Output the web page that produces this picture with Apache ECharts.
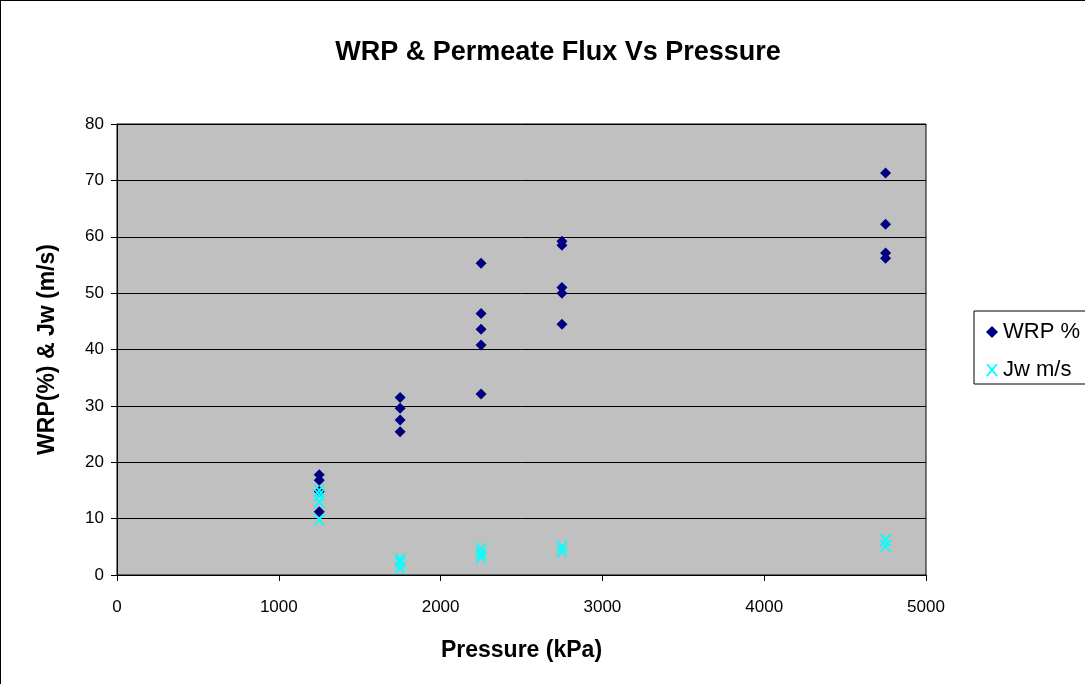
<!DOCTYPE html>
<html>
<head>
<meta charset="utf-8">
<script src="https://cdn.jsdelivr.net/npm/echarts@6/dist/echarts.min.js"></script>
<style>
  html, body { margin: 0; padding: 0; background: #fff; }
  #chart { width: 1085px; height: 684px; box-sizing: border-box; border-left: 1px solid #000; border-top: 1px solid #000; }
</style>
</head>
<body>
<div id="chart"></div>
<script>
// Pressure settings (kPa)
const pressures = [1250, 1750, 2250, 2750, 4750];

// WRP (%) readings at each pressure
const wrp1250 = [17.8, 16.8, 14.8, 11.2];
const wrp1750 = [31.5, 29.6, 27.5, 25.4];
const wrp2250 = [55.3, 46.4, 43.6, 40.8, 32.1];
const wrp2750 = [59.2, 58.5, 51.0, 50.0, 44.5];
const wrp4750 = [71.3, 62.2, 57.1, 56.2];

// Permeate flux Jw (m/s) readings at each pressure
const jw1250 = [15.0, 14.2, 13.0, 9.8];
const jw1750 = [2.8, 2.2, 1.2];
const jw2250 = [4.6, 3.8, 3.2];
const jw2750 = [5.0, 4.2];
const jw4750 = [6.2, 5.2];

const xTicks = [0, 1000, 2000, 3000, 4000, 5000];
const yTicks = [0, 10, 20, 30, 40, 50, 60, 70, 80];

function pairs(x, ys) { return ys.map(v => [x, v]); }
const wrpData = [].concat(
  pairs(pressures[0], wrp1250), pairs(pressures[1], wrp1750),
  pairs(pressures[2], wrp2250), pairs(pressures[3], wrp2750),
  pairs(pressures[4], wrp4750));
const jwData = [].concat(
  pairs(pressures[0], jw1250), pairs(pressures[1], jw1750),
  pairs(pressures[2], jw2250), pairs(pressures[3], jw2750),
  pairs(pressures[4], jw4750));

// thin "x" marker outline
const crossPath = 'path://M0,0L1.8,0L5,3.8L8.2,0L10,0L6,5L10,10L8.2,10L5,6.2L1.8,10L0,10L4,5Z';
const font = '"Liberation Sans", Arial, sans-serif';

const chart = echarts.init(document.getElementById('chart'));
chart.setOption({
  backgroundColor: '#fff',
  animation: false,
  title: {
    text: 'WRP & Permeate Flux Vs Pressure',
    left: 552, top: 33, textAlign: 'center',
    textStyle: { fontFamily: font, fontSize: 27, fontWeight: 'bold', color: '#000' }
  },
  grid: {
    left: 116, top: 123, width: 809, height: 451,
    show: true, backgroundColor: '#C0C0C0', borderColor: '#000', borderWidth: 1
  },
  legend: {
    orient: 'vertical', left: 973, top: 310,
    itemWidth: 12, itemHeight: 12, itemGap: 14,
    padding: [9, 10, 2, 12],
    borderColor: '#000', borderWidth: 1, backgroundColor: '#fff',
    textStyle: { fontFamily: font, fontSize: 22, lineHeight: 24, color: '#000' },
    data: [
      { name: 'WRP %', icon: 'diamond', itemStyle: { color: '#000080' } },
      { name: 'Jw m/s', icon: crossPath, itemStyle: { color: '#00FFFF' } }
    ]
  },
  xAxis: {
    type: 'value', min: 0, max: 5000, interval: 1000,
    name: 'Pressure (kPa)', nameLocation: 'middle', nameGap: 64,
    nameTextStyle: { fontFamily: font, fontSize: 23, fontWeight: 'bold', color: '#000' },
    axisLine: { show: true, lineStyle: { color: '#000', width: 1 } },
    axisTick: { show: true, inside: false, length: 6, lineStyle: { color: '#000' } },
    axisLabel: { fontFamily: font, fontSize: 17, color: '#000', margin: 24,
      formatter: v => xTicks.includes(v) ? String(v) : '' },
    splitLine: { show: false }
  },
  yAxis: {
    type: 'value', min: 0, max: 80, interval: 10,
    name: 'WRP(%) & Jw (m/s)', nameLocation: 'middle', nameGap: 58, nameRotate: 90,
    nameTextStyle: { fontFamily: font, fontSize: 23, fontWeight: 'bold', color: '#000' },
    axisLine: { show: true, lineStyle: { color: '#000', width: 1 } },
    axisTick: { show: true, inside: false, length: 6, lineStyle: { color: '#000' } },
    axisLabel: { fontFamily: font, fontSize: 17, color: '#000', margin: 13,
      formatter: v => yTicks.includes(v) ? String(v) : '' },
    splitLine: { show: true, lineStyle: { color: '#000', width: 1 } }
  },
  series: [
    {
      name: 'WRP %', type: 'scatter', data: wrpData,
      symbol: 'diamond', symbolSize: 11,
      itemStyle: { color: '#000080', opacity: 1 }
    },
    {
      name: 'Jw m/s', type: 'scatter', data: jwData,
      symbol: crossPath, symbolSize: 12,
      itemStyle: { color: '#00FFFF', opacity: 1 }
    }
  ]
});
</script>
</body>
</html>
